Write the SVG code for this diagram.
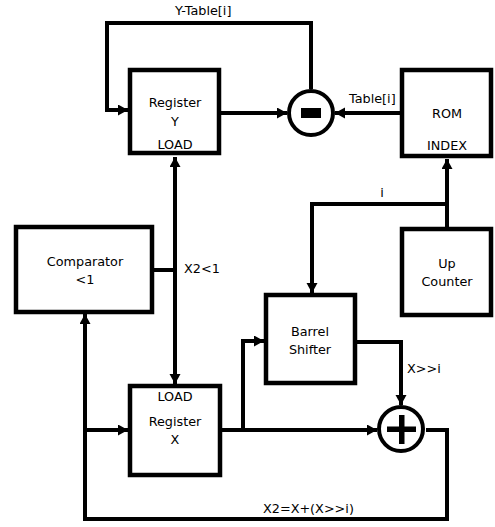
<svg xmlns="http://www.w3.org/2000/svg" width="495" height="527" viewBox="0 0 495 527">
<style>
  .box { fill: #ffffff; stroke: #000000; stroke-width: 4.5; }
  .op { fill: #ffffff; stroke: #000000; stroke-width: 4; }
  .wire { fill: none; stroke: #000000; stroke-width: 4; stroke-linejoin: miter; }
  .arr { marker-end: url(#ah); }
  text { font-family: "DejaVu Sans", "Liberation Sans", sans-serif; font-size: 12.8px; fill: #000000; }
  .c { text-anchor: middle; }
</style>
<defs>
  <marker id="ah" markerUnits="userSpaceOnUse" markerWidth="12" markerHeight="12" refX="10" refY="5.5" orient="auto-start-reverse">
    <path d="M0,0 L10,5.5 L0,11 Z" fill="#000000"/>
  </marker>
</defs>
<rect width="495" height="527" fill="#ffffff"/>

<g id="connectors">
  <path class="wire arr" d="M221,113 H287"/>
  <path class="wire arr" d="M400,113 H335"/>
  <path class="wire arr" d="M311,89 V23 H107 V110 H128"/>
  <path class="wire" d="M175,157 V384" marker-start="url(#ah)" marker-end="url(#ah)"/>
  <path class="wire" d="M152,270 H175"/>
  <path class="wire arr" d="M447,227 V159"/>
  <path class="wire arr" d="M447,204 H312 V293"/>
  <path class="wire arr" d="M357,342 H401 V405"/>
  <path class="wire arr" d="M222,430 H377"/>
  <path class="wire arr" d="M243,430 V341 H264"/>
  <path class="wire arr" d="M426,430 H447 V519 H85 V314"/>
  <path class="wire arr" d="M85,430 H128"/>
  <text x="175" y="15">Y-Table[i]</text>
  <text x="349" y="103">Table[i]</text>
  <text class="c" x="382" y="197">i</text>
  <text x="184" y="273">X2&lt;1</text>
  <text x="407" y="373">X&gt;&gt;i</text>
  <text x="263" y="513">X2=X+(X&gt;&gt;i)</text>
</g>

<g id="registerY">
  <rect class="box" x="130" y="70" width="89" height="83"/>
  <text class="c" x="175" y="107">Register</text>
  <text class="c" x="175" y="126">Y</text>
  <text class="c" x="175" y="149">LOAD</text>
</g>

<g id="subtract">
  <circle class="op" cx="311" cy="113" r="22"/>
  <rect x="301" y="108" width="20" height="10" fill="#000000"/>
</g>

<g id="rom">
  <rect class="box" x="402" y="70" width="89" height="86"/>
  <text class="c" x="447" y="118">ROM</text>
  <text class="c" x="447" y="150">INDEX</text>
</g>

<g id="upCounter">
  <rect class="box" x="402" y="229" width="89" height="86"/>
  <text class="c" x="447" y="268">Up</text>
  <text class="c" x="447" y="286">Counter</text>
</g>

<g id="comparator">
  <rect class="box" x="16" y="227" width="136" height="85"/>
  <text class="c" x="85" y="266">Comparator</text>
  <text class="c" x="85" y="284">&lt;1</text>
</g>

<g id="barrelShifter">
  <rect class="box" x="266" y="295" width="89" height="88"/>
  <text class="c" x="310" y="336">Barrel</text>
  <text class="c" x="310" y="354">Shifter</text>
</g>

<g id="registerX">
  <rect class="box" x="130" y="386" width="90" height="89"/>
  <text class="c" x="175" y="401">LOAD</text>
  <text class="c" x="175" y="426">Register</text>
  <text class="c" x="175" y="444">X</text>
</g>

<g id="add">
  <circle class="op" cx="401" cy="429" r="22"/>
  <rect x="387" y="426.5" width="29" height="5.5" fill="#000000"/>
  <rect x="399" y="415" width="5.5" height="29" fill="#000000"/>
</g>
</svg>
